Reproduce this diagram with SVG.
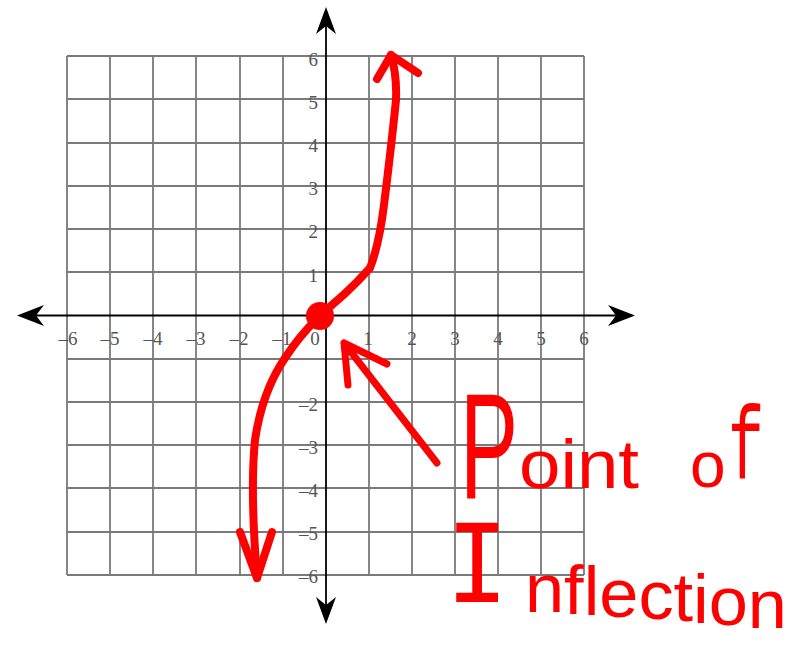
<svg xmlns="http://www.w3.org/2000/svg" width="796" height="645" viewBox="0 0 796 645">
<style>
.grid{stroke:#7a7a7a;stroke-width:1.8;fill:none}
.axis{stroke:#000;stroke-width:1.8;fill:none}
.tick{font-family:"Liberation Serif",serif;font-size:19px;fill:#555}
.red{stroke:#ff0000;stroke-width:8;fill:none;stroke-linecap:round;stroke-linejoin:round}
.hand{font-family:"Liberation Sans",sans-serif;fill:#ff0000}
.mono{font-family:"Liberation Mono",monospace}
</style>
<rect width="796" height="645" fill="#fff"/>
<g id="grid">
<path class="grid" d="M67,56H584M67,99H584M67,143H584M67,186H584M67,229H584M67,272H584M67,359H584M67,402H584M67,445H584M67,488H584M67,532H584M67,575H584"/>
<path class="grid" d="M67,56V575M110,56V575M153,56V575M196,56V575M240,56V575M283,56V575M369,56V575M412,56V575M455,56V575M498,56V575M541,56V575M584,56V575"/>
</g>
<g id="axes">
<path class="axis" d="M30,315.5H622M326,20V612"/>
<path d="M17,315.5 L44,305 L36,315.5 L44,326 Z"/>
<path d="M635,315.5 L608,305 L616,315.5 L608,326 Z"/>
<path d="M326,7 L316,34 L326,26 L336,34 Z"/>
<path d="M326,624 L316,597 L326,605 L336,597 Z"/>
</g>
<g id="xlabels" class="tick" text-anchor="middle">
<text x="68" y="345">–6</text>
<text x="110" y="345">–5</text>
<text x="153" y="345">–4</text>
<text x="196" y="345">–3</text>
<text x="239" y="345">–2</text>
<text x="282" y="345">–1</text>
<text x="315" y="345">0</text>
<text x="368" y="345">1</text>
<text x="412" y="345">2</text>
<text x="455" y="345">3</text>
<text x="498" y="345">4</text>
<text x="541" y="345">5</text>
<text x="584" y="345">6</text>
</g>
<g id="ylabels" class="tick" text-anchor="end">
<text x="318" y="66">6</text>
<text x="318" y="109">5</text>
<text x="318" y="152">4</text>
<text x="318" y="195">3</text>
<text x="318" y="238">2</text>
<text x="318" y="282">1</text>
<text x="318" y="411">–2</text>
<text x="318" y="454">–3</text>
<text x="318" y="497">–4</text>
<text x="318" y="540">–5</text>
<text x="318" y="583">–6</text>
</g>
<g id="curve">
<path class="red" d="M318,316 Q345,296 370,268 Q379,245 384,205 Q392,140 396,100 Q397,75 391,55"/>
<path class="red" d="M377,79 L391,55 L418,73"/>
<path class="red" d="M318,318 Q300,335 285,358 Q262,392 255,440 Q250,490 257,578"/>
<path class="red" d="M240,532 L257,578 L272,532"/>
<circle cx="320" cy="316" r="14" fill="#ff0000"/>
</g>
<g id="pointer">
<path class="red" style="stroke-width:7" d="M437,463 L344,343 M387,364 L344,343 L348,385"/>
</g>
<g id="label">
<text class="hand" font-size="100" transform="translate(460,498) scale(0.87,1.5)">P</text>
<text class="hand" x="519" y="488" font-size="68" textLength="120" lengthAdjust="spacingAndGlyphs">oint</text>
<text class="hand" x="690" y="487" font-size="64">o</text>
<text class="hand mono" font-size="80" transform="translate(728,478) scale(0.75,1.3)">f</text>
<text class="hand mono" font-size="80" transform="translate(446,602) scale(1.3,1.5)">I</text>
<text class="hand" x="525" y="612" font-size="68" textLength="262" lengthAdjust="spacingAndGlyphs" dy="0 2 1 2 2 2 2 2 3">nflection</text>
</g>
</svg>
